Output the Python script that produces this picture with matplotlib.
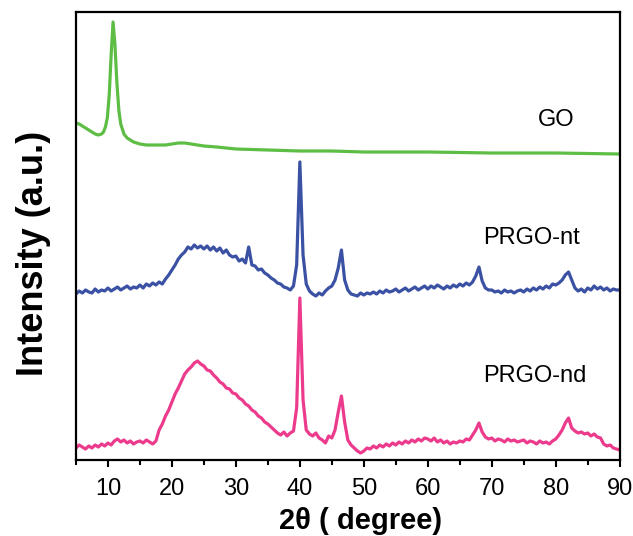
import numpy as np
import matplotlib.pyplot as plt

# 2-theta grid for the PRGO scans (0.5 degree steps)
two_theta = np.arange(5, 90.5, 0.5)

# PRGO-nt (blue), intensity a.u. incl. offset
prgo_nt = [
    166, 169, 167, 170, 168, 167, 171, 168, 170, 169,
    172, 169, 171, 173, 170, 172, 174, 171, 173, 172,
    175, 172, 176, 174, 177, 175, 178, 176, 181, 185,
    190, 195, 201, 205, 208, 213, 211, 215, 212, 214,
    211, 214, 210, 213, 209, 212, 207, 210, 205, 203,
    204, 199, 201, 197, 213, 195, 194, 190, 191, 187,
    185, 182, 180, 177, 176, 173, 172, 170, 174, 195,
    298, 205, 176, 169, 166, 164, 167, 165, 169, 172,
    174, 180, 192, 210, 180, 170, 166, 165, 164, 167,
    165, 167, 166, 168, 166, 169, 167, 170, 168, 169,
    171, 168, 170, 172, 169, 171, 173, 170, 172, 174,
    171, 174, 172, 175, 173, 171, 174, 172, 175, 173,
    176, 174, 177, 175, 178, 184, 193, 179, 172, 170,
    170, 168, 169, 167, 170, 168, 169, 167, 169, 170,
    168, 171, 169, 172, 170, 173, 171, 174, 172, 176,
    175, 177, 180, 185, 188, 180, 172, 169, 171, 168,
    172, 170, 174, 171, 173, 170, 172, 169, 171, 170,
    170,
]

# PRGO-nd (pink)
prgo_nd = [
    12, 15, 13, 11, 14, 12, 15, 13, 16, 14,
    17, 15, 19, 21, 18, 20, 17, 19, 16, 18,
    19, 17, 20, 18, 16, 19, 30, 36, 44, 50,
    58, 66, 72, 79, 86, 90, 93, 97, 99, 96,
    94, 90, 89, 85, 82, 78, 76, 72, 71, 67,
    66, 62, 60, 56, 54, 50, 48, 44, 42, 38,
    36, 33, 30, 27, 25, 28, 24, 27, 29, 52,
    162, 60, 30, 26, 24, 27, 22, 20, 17, 24,
    22, 30, 48, 64, 38, 20, 15, 12, 9, 7,
    9, 12, 11, 14, 12, 15, 13, 16, 14, 17,
    15, 18, 16, 19, 17, 20, 18, 21, 19, 22,
    21, 19, 22, 18, 20, 17, 19, 16, 18, 17,
    19, 18, 21, 20, 25, 30, 37, 28, 23, 21,
    22, 19, 21, 20, 18, 21, 19, 20, 18, 19,
    20, 17, 19, 18, 16, 19, 17, 18, 16, 19,
    21, 25, 30, 37, 42, 32, 29, 27, 28, 26,
    27, 24, 26, 23, 22, 16, 14, 15, 12, 11,
    10,
]

# GO (green), smooth scan
go_x = [5, 5.5, 6, 6.5, 7, 7.5, 8, 8.5, 9, 9.3, 9.6, 9.9, 10.2, 10.5, 10.8,
        11.1, 11.4, 11.7, 12.0, 12.5, 13, 14, 15, 16, 17, 18, 19, 20, 21, 22,
        23, 24, 25, 27, 30, 35, 40, 45, 50, 60, 70, 80, 90]
go_y = [337, 336, 334, 332, 330, 328, 326, 325, 326, 328, 333, 342, 365, 405, 438,
        415, 377, 350, 336, 326, 322, 318, 316, 315, 315, 315, 315, 316, 317, 317,
        316, 315, 314, 313, 311, 310, 309, 309, 308, 308, 307, 307, 306]

plt.rcParams['font.family'] = ['Liberation Sans', 'DejaVu Sans']

fig = plt.figure(figsize=(6.33, 5.36), dpi=100)
ax = fig.add_axes([0.120, 0.1418, 0.859, 0.8358])

ax.plot(go_x, go_y, color='#5dbd45', lw=2.3)
ax.plot(two_theta, prgo_nt, color='#3b51a3', lw=2.3)
ax.plot(two_theta, prgo_nd, color='#ec3b8d', lw=2.3)

ax.text(80.0, 340, 'GO', fontsize=17, ha='center', va='center')
ax.text(68.6, 222, 'PRGO-nt', fontsize=17, ha='left', va='center')
ax.text(68.6, 84, 'PRGO-nd', fontsize=17, ha='left', va='center')

ax.set_xlim(5, 90)
ax.set_ylim(0, 448)
ax.set_xticks(range(10, 91, 10))
ax.set_xticks(range(5, 91, 5), minor=True)
ax.set_yticks([])
ax.tick_params(axis='x', which='major', direction='out', length=5, width=1.5, labelsize=17, pad=8)
ax.tick_params(axis='x', which='minor', direction='out', length=3.5, width=1.5)
for s in ax.spines.values():
    s.set_linewidth(1.6)

ax.set_xlabel('2θ ( degree)', fontsize=21, fontweight='bold')
ax.set_ylabel('Intensity (a.u.)', fontsize=26, fontweight='bold')
ax.xaxis.set_label_coords(0.524, -0.105)
ax.yaxis.set_label_coords(-0.046, 0.462)

fig.savefig('out.png', dpi=100)
